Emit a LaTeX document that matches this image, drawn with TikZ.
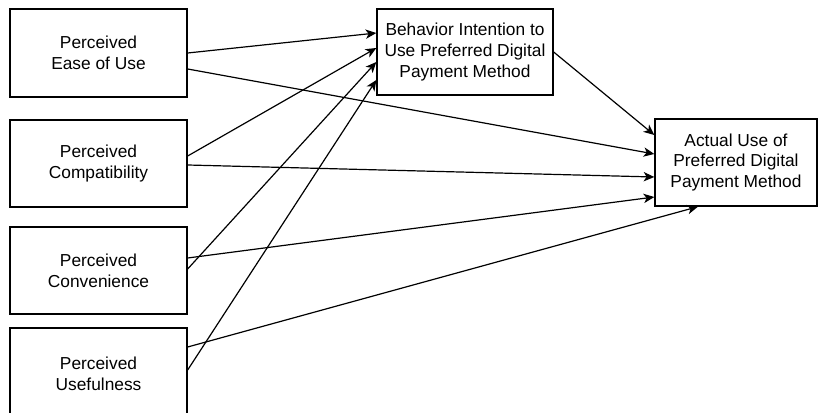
\documentclass[tikz,border=0pt]{standalone}
\usepackage{fontspec}
\setmainfont{Liberation Sans}
\usepackage{tikz}
\usetikzlibrary{arrows.meta,calc}

\tikzset{
    factor/.style={draw, line width=1pt, align=center, inner sep=0pt,
        font=\fontsize{13}{15.5}\selectfont},
    path/.style={line width=0.9pt, -{Stealth[length=8pt,width=7pt,inset=2.2pt]}}
}

\begin{document}
\begin{tikzpicture}[x=0.75pt, y=-0.75pt]
                \useasboundingbox (0,0) rectangle (818,413);

                \node[factor, minimum width=132.75pt, minimum height=66pt] (p1) at (98.5, 53) {Perceived\\Ease of Use};
                \node[factor, minimum width=132.75pt, minimum height=65.25pt] (p2) at (98.5, 163.5) {Perceived\\Compatibility};
                \node[factor, minimum width=132.75pt, minimum height=65.25pt] (p3) at (98.5, 270.5) {Perceived\\Convenience};
                \node[factor, minimum width=132.75pt, minimum height=69pt] (p4) at (98.5, 374) {Perceived\\Usefulness};

                \node[factor, minimum width=132pt, minimum height=64.5pt] (bi) at (465, 52) {Behavior Intention to\\Use Preferred Digital\\Payment Method};
                \node[factor, minimum width=121.5pt, minimum height=65.25pt] (au) at (736, 162.5) {Actual Use of\\Preferred Digital\\Payment Method};

                \draw[path] (p1.east) -- ($(bi.west)+(0,-19)$);
                \draw[path] ($(p2.east)+(0,-7.5)$) -- ($(bi.west)+(0,-4)$);
                \draw[path] ($(p3.east)+(0,-1.5)$) -- ($(bi.west)+(0,10)$);
                \draw[path] ($(p4.east)+(0,-4)$) -- ($(bi.west)+(0,28)$);

                \draw[path] (bi.east) -- ($(au.west)+(0,-27.5)$);
                \draw[path] ($(p1.east)+(0,16)$) -- ($(au.west)+(0,-8.5)$);
                \draw[path] ($(p2.east)+(0,1.5)$) -- ($(au.west)+(0,14.5)$);
                \draw[path] ($(p3.east)+(0,-12.5)$) -- ($(au.west)+(0,34.5)$);
                \draw[path] ($(p4.east)+(0,-27)$) -- ($(au.south)+(-38,0)$);

            \end{tikzpicture}
\end{document}
